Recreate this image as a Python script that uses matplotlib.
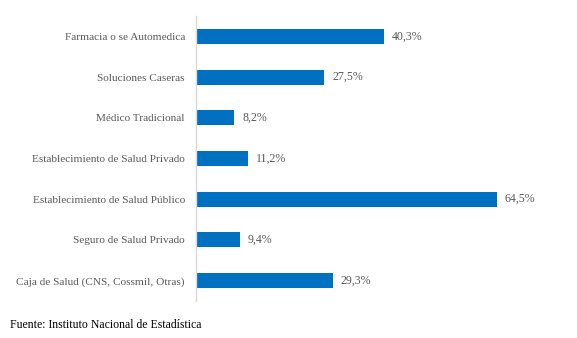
import matplotlib
matplotlib.use("Agg")
import matplotlib.pyplot as plt

categorias = [
    "Farmacia o se Automedica",
    "Soluciones Caseras",
    "Médico Tradicional",
    "Establecimiento de Salud Privado",
    "Establecimiento de Salud Público",
    "Seguro de Salud Privado",
    "Caja de Salud (CNS, Cossmil, Otras)",
]
valores = [40.3, 27.5, 8.2, 11.2, 64.5, 9.4, 29.3]
etiquetas = ["40,3%", "27,5%", "8,2%", "11,2%", "64,5%", "9,4%", "29,3%"]

plt.rcParams['font.family'] = ['Liberation Serif', 'DejaVu Serif']

fig = plt.figure(figsize=(5.77, 3.38), dpi=100)
# ejes colocados a mano para coincidir con la imagen
ax = fig.add_axes([196 / 577, 1 - 301 / 338, (560 - 196) / 577, 285 / 338])

pos = list(range(len(categorias)))
ax.barh(pos, valores, height=0.37, color='#0070C0')
ax.set_ylim(len(categorias) - 0.5, -0.5)
ax.set_xlim(0, 364 / 4.665)

for y, v, t in zip(pos, valores, etiquetas):
    ax.text(v + 1.7, y, t, va='center', ha='left', fontsize=8.6, color='#595959')

ax.set_yticks(pos)
ax.set_yticklabels(categorias, fontsize=8.1, color='#595959')
ax.tick_params(axis='y', length=0, pad=8)
ax.set_xticks([])

for s in ['top', 'right', 'bottom']:
    ax.spines[s].set_visible(False)
ax.spines['left'].set_color('#D9D9D9')
ax.spines['left'].set_linewidth(1)

fig.text(10 / 577, 1 - 325 / 338, "Fuente: Instituto Nacional de Estadística",
         fontsize=8.5, color='black', va='center', ha='left')

fig.savefig("out.png", dpi=100)
